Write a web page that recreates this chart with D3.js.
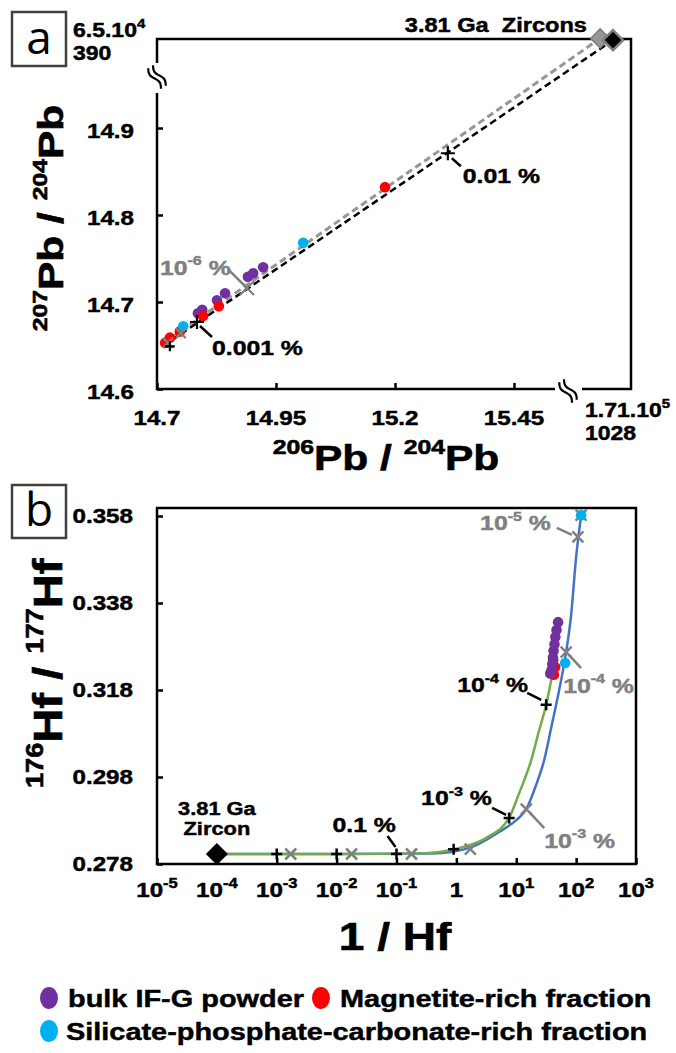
<!DOCTYPE html>
<html><head><meta charset="utf-8">
<script src="https://cdn.jsdelivr.net/npm/d3@7"></script>
<style>
body{margin:0;background:#fff}
svg{display:block}
text{font-family:"Liberation Sans",Arial,sans-serif;font-weight:bold}
</style>
</head><body>
<svg id="c" width="676" height="1053"></svg>
<script>
// ================= DATA =================
// Panel a : 207Pb/204Pb vs 206Pb/204Pb
const aXTicks = [14.7, 14.95, 15.2, 15.45];
const aXTickLabels = ['14.7', '14.95', '15.2', '15.45'];
const aYTicks = [14.6, 14.7, 14.8, 14.9];
const aYTickLabels = ['14.6', '14.7', '14.8', '14.9'];
const aBulk = [[14.786,14.687],[14.795,14.691],[14.826,14.702],[14.843,14.710],[14.891,14.729],[14.902,14.733],[14.923,14.740]];
const aMagnetite = [[14.717,14.653],[14.727,14.659],[14.748,14.666],[14.797,14.684],[14.830,14.695],[15.179,14.832]];
const aSilicate = [[14.755,14.672],[15.007,14.768]];
// zircon end-members are plotted beyond the axis breaks (break-axis coordinates)
const aZirconGray = [15.631, 15.003];
const aZirconBlack = [15.658, 15.001];
const aLineGray = [[14.712,14.652], aZirconGray];
const aLineBlack = [[14.712,14.649], aZirconBlack];
const aPlusBlack = [[14.727,14.649],[14.784,14.677],[15.311,14.871]];
const aCrossGray = [[14.723,14.653],[14.750,14.664],[14.889,14.716]];

// Panel b : 176Hf/177Hf vs 1/Hf
const bXTicks = [1e-5,1e-4,1e-3,1e-2,1e-1,1,10,100,1000];
const bXTickLabels = [['10','-5'],['10','-4'],['10','-3'],['10','-2'],['10','-1'],['1',null],['10','1'],['10','2'],['10','3']];
const bYTicks = [0.278,0.298,0.318,0.338,0.358];
const bYTickLabels = ['0.278','0.298','0.318','0.338','0.358'];
const bZircon = [1e-4, 0.2803];
const bGreen = [[1e-4,0.2803],[0.01,0.2803],[0.3,0.2805],[0.93,0.2814],[3.16,0.2840],[7.6,0.2886],[11.2,0.2943],[17.8,0.3019],[24.2,0.3088],[31.6,0.3146],[39.8,0.3214]];
const bBlue = [[1e-4,0.2803],[0.01,0.2803],[0.4,0.2804],[1.65,0.2817],[5.21,0.2854],[10,0.2881],[14.7,0.2906],[21.5,0.2962],[29.3,0.3019],[38.3,0.3093],[52.1,0.3180],[68.1,0.3267],[82.5,0.3352],[100,0.3486],[121,0.3580]];
const bPlusBlack = [[1e-3,0.2803],[1e-2,0.2803],[1e-1,0.2803],[0.9,0.2814],[7.6,0.2886],[31.6,0.3146]];
const bCrossGray = [[1.71e-3,0.2803],[1.78e-2,0.2803],[0.178,0.2803],[1.71,0.2814],[14.7,0.2906],[68.1,0.3267],[107,0.3532],[121,0.3582]];
const bBulk = [[50,0.3336],[47,0.3318],[45,0.3302],[43.5,0.3285],[42,0.3270],[41,0.3255],[40,0.3240],[39,0.3226],[37,0.3218]];
const bMagnetite = [[41.4,0.3249],[44.7,0.3233],[42.5,0.3215]];
const bSilicate = [[65.6,0.3242],[121,0.3582]];

const legendItems = [
  {label:'bulk IF-G powder', color:'#7030A0'},
  {label:'Magnetite-rich fraction', color:'#FF0000'},
  {label:'Silicate-phosphate-carbonate-rich fraction', color:'#00B0F0'}
];

// ================= HELPERS =================
const PURPLE = '#7030A0', RED = '#FF0000', CYAN = '#00B0F0', GRAY = '#808080';
const SX = 1.18;
const svg = d3.select('#c');

function label(parent, x, y, parts, o = {}) {
  const size = o.size || 20.5;
  const fill = o.fill || '#000';
  const g = parent.append('g').attr('transform', `translate(${x},${y}) rotate(${o.rotate||0}) scale(${o.sx||SX},1)`);
  const t = g.append('text')
    .attr('text-anchor', o.anchor || 'start')
    .attr('fill', fill)
    .attr('stroke', fill)
    .attr('stroke-width', o.sw == null ? 0.45 : o.sw)
    .attr('y', o.baseline ? 0 : size * 0.358)
    .style('font-size', size + 'px')
    .style('white-space', 'pre');
  if (o.weight) t.style('font-weight', o.weight);
  if (typeof parts === 'string') parts = [[parts]];
  const supSize = o.sup || size * 0.65;
  const rise = o.rise || size * 0.45;
  let up = false;
  parts.forEach(([s, k]) => {
    if (s == null) return;
    const ts = t.append('tspan').text(s);
    if (k === 'sup') {
      ts.style('font-size', supSize + 'px');
      if (!up) { ts.attr('dy', -rise); up = true; }
    } else if (up) { ts.attr('dy', rise); up = false; }
  });
  return t;
}
function plus(g, x, y, s, color, w) {
  g.append('path').attr('d', `M${x-s},${y}H${x+s}M${x},${y-s}V${y+s}`).attr('stroke', color).attr('stroke-width', w).attr('fill','none');
}
function cross(g, x, y, s, color, w) {
  g.append('path').attr('d', `M${x-s},${y-s}L${x+s},${y+s}M${x-s},${y+s}L${x+s},${y-s}`).attr('stroke', color).attr('stroke-width', w).attr('fill','none');
}
function leader(g, x1, y1, x2, y2, color) {
  g.append('line').attr('x1',x1).attr('y1',y1).attr('x2',x2).attr('y2',y2).attr('stroke',color).attr('stroke-width',2.5);
}
function diamond(g, x, y, r, fill, stroke, sw) {
  g.append('path').attr('d', `M${x},${y-r}L${x+r},${y}L${x},${y+r}L${x-r},${y}Z`).attr('fill', fill).attr('stroke', stroke||'none').attr('stroke-width', sw||0);
}
function breakMark(g, cx, cy) {
  const dir = [0.53, 0.85], perp = [0.85, -0.53];
  [-2.8, 2.8].forEach(off => {
    const pts = d3.range(-12, 12.01, 2).map(u => {
      const v = 2.3 * Math.sin(Math.PI * u / 12) + off;
      return [cx + dir[0]*u + perp[0]*v, cy + dir[1]*u + perp[1]*v];
    });
    g.append('path').attr('d', d3.line().curve(d3.curveBasis)(pts)).attr('fill','none').attr('stroke','#000').attr('stroke-width',2.2);
  });
}
function panelLetter(x, y, w, h, letter) {
  svg.append('rect').attr('x',x).attr('y',y).attr('width',w).attr('height',h).attr('fill','none').attr('stroke','#404040').attr('stroke-width',2.5);
  svg.append('text').attr('x', x + w/2).attr('y', y + h - 12).attr('text-anchor','middle')
    .style('font-family','"Open Sans",sans-serif').style('font-weight','normal').style('font-size','46px').text(letter);
}

// ================= PANEL A =================
const xA = d3.scaleLinear().domain([14.7, 15.45]).range([157, 514]);
const yA = d3.scaleLinear().domain([14.6, 14.9]).range([389, 128]);
const gA = svg.append('g');
const A_L = 157, A_R = 631, A_T = 39, A_B = 389;

panelLetter(12, 12, 54, 54, 'a');

gA.append('g').attr('transform', `translate(0,${A_B})`)
  .call(d3.axisBottom(xA).tickValues(aXTicks).tickSize(-6).tickFormat(''))
  .call(g => { g.select('.domain').remove(); g.selectAll('line').attr('stroke-width', 2.5); });
gA.append('g').attr('transform', `translate(${A_L},0)`)
  .call(d3.axisLeft(yA).tickValues(aYTicks).tickSize(-6).tickFormat(''))
  .call(g => { g.select('.domain').remove(); g.selectAll('line').attr('stroke-width', 2.5); });

gA.append('path').attr('d', `M${A_L},63V${A_T}H${A_R}V${A_B}H582M555,${A_B}H${A_L}V93`)
  .attr('fill','none').attr('stroke','#000').attr('stroke-width',2.5);
breakMark(gA, A_L, 77);
breakMark(gA, 568, 391);

aXTicks.forEach((v, i) => label(gA, xA(v), 418, aXTickLabels[i], {anchor:'middle'}));
aYTicks.forEach((v, i) => label(gA, 134, yA(v) + 3, aYTickLabels[i], {anchor:'end'}));
label(gA, 73, 30, [['6.5.10'],['4','sup']], {size:19.5});
label(gA, 73, 53, '390', {size:19.5});
label(gA, 585, 410, [['1.71.10'],['5','sup']], {size:19.5});
label(gA, 585, 433, '1028', {size:19.5});

const lineA = d3.line().x(d => xA(d[0])).y(d => yA(d[1]));
gA.append('path').attr('d', lineA(aLineGray)).attr('fill','none').attr('stroke','#969696').attr('stroke-width',3).attr('stroke-dasharray','7,4');
gA.append('path').attr('d', lineA(aLineBlack)).attr('fill','none').attr('stroke','#000').attr('stroke-width',2.5).attr('stroke-dasharray','7,4');

[[aBulk, PURPLE],[aMagnetite, RED],[aSilicate, CYAN]].forEach(([arr, c]) => {
  gA.selectAll(null).data(arr).enter().append('circle')
    .attr('cx', d => xA(d[0])).attr('cy', d => yA(d[1])).attr('r', 5.3).attr('fill', c);
});

aCrossGray.forEach((d, i) => cross(gA, xA(d[0]), yA(d[1]), i === 2 ? 7 : 5, GRAY, 2.2));
aPlusBlack.forEach((d, i) => plus(gA, xA(d[0]), yA(d[1]), i === 0 ? 5 : 7, '#000', 2.2));

diamond(gA, xA(aZirconGray[0]), yA(aZirconGray[1]), 9.5, '#969696', '#808080', 1.5);
diamond(gA, xA(aZirconBlack[0]), yA(aZirconBlack[1]), 10, '#000', '#808080', 2.5);
label(gA, 587, 25, '3.81 Ga  Zircons', {anchor:'end', size:20});

{
  const p1 = [xA(aPlusBlack[1][0]), yA(aPlusBlack[1][1])];
  leader(gA, p1[0] + 3, p1[1] + 4, p1[0] + 15, p1[1] + 15, '#000');
  label(gA, p1[0] + 15, p1[1] + 25, '0.001 %', {size:21});
  const p2 = [xA(aPlusBlack[2][0]), yA(aPlusBlack[2][1])];
  leader(gA, p2[0] + 4, p2[1] + 5, p2[0] + 13, p2[1] + 13, '#000');
  label(gA, p2[0] + 15, p2[1] + 22, '0.01 %', {size:21});
  const g1 = [xA(aCrossGray[2][0]), yA(aCrossGray[2][1])];
  leader(gA, g1[0] - 19, g1[1] - 19, g1[0], g1[1], GRAY);
  label(gA, g1[0] - 87, g1[1] - 21, [['10'],['-6','sup'],[' %']], {fill: GRAY, size:21});
}

label(svg, 63, 218, [['207','sup'],['Pb / '],['204','sup'],['Pb']], {size:36, sup:21, rise:16, anchor:'middle', rotate:-90, baseline:true, sw:0.6});
label(svg, 386, 470, [['206','sup'],['Pb / '],['204','sup'],['Pb']], {size:36, sup:21, rise:16, anchor:'middle', baseline:true, sw:0.6});

// ================= PANEL B =================
const xB = d3.scaleLog().domain([1e-5, 1e3]).range([157, 636]);
const yB = d3.scaleLinear().domain([0.278, 0.358]).range([864, 516]);
const gB = svg.append('g');
const B_T = 508;

panelLetter(12, 485, 54, 53, 'b');

gB.append('g').attr('transform', 'translate(0,864)')
  .call(d3.axisBottom(xB).tickValues(bXTicks).tickSize(-6).tickFormat(''))
  .call(g => { g.select('.domain').remove(); g.selectAll('line').attr('stroke-width', 2.5); });
gB.append('g').attr('transform', 'translate(157,0)')
  .call(d3.axisLeft(yB).tickValues(bYTicks).tickSize(-6).tickFormat(''))
  .call(g => { g.select('.domain').remove(); g.selectAll('line').attr('stroke-width', 2.5); });
gB.append('rect').attr('x', 157).attr('y', B_T).attr('width', xB(1e3) - 157).attr('height', 864 - B_T)
  .attr('fill','none').attr('stroke','#000').attr('stroke-width',2.5);

bXTicks.forEach((v, i) => {
  const [base, ex] = bXTickLabels[i];
  label(gB, xB(v), 890, [[base], [ex, 'sup']], {anchor:'middle', sup:14});
});
bYTicks.forEach((v, i) => label(gB, 133, yB(v), bYTickLabels[i], {anchor:'end'}));

const lineB = d3.line().x(d => xB(d[0])).y(d => yB(d[1])).curve(d3.curveMonotoneX);
gB.append('path').attr('d', lineB(bBlue)).attr('fill','none').attr('stroke','#4472C4').attr('stroke-width',2.5);
gB.append('path').attr('d', lineB(bGreen)).attr('fill','none').attr('stroke','#70AD47').attr('stroke-width',2.5);

bCrossGray.forEach(d => cross(gB, xB(d[0]), yB(d[1]), 5.5, GRAY, 2.5));
bPlusBlack.forEach(d => plus(gB, xB(d[0]), yB(d[1]), 5.5, '#000', 2.5));

[[bMagnetite, RED],[bBulk, PURPLE],[bSilicate, CYAN]].forEach(([arr, c]) => {
  gB.selectAll(null).data(arr).enter().append('circle')
    .attr('cx', d => xB(d[0])).attr('cy', d => yB(d[1])).attr('r', 5.3).attr('fill', c);
});

diamond(gB, xB(bZircon[0]), yB(bZircon[1]), 11, '#000');
label(gB, xB(bZircon[0]), 808, '3.81 Ga', {anchor:'middle', size:18.5});
label(gB, xB(bZircon[0]), 828, 'Zircon', {anchor:'middle', size:18.5});

{
  const P = i => [xB(bPlusBlack[i][0]), yB(bPlusBlack[i][1])];
  const C = i => [xB(bCrossGray[i][0]), yB(bCrossGray[i][1])];
  let p = P(2); leader(gB, p[0] - 9, p[1] - 18, p[0] - 1, p[1] - 7, '#000');
  label(gB, p[0] - 64, p[1] - 30, '0.1 %', {size:21});
  p = P(4); leader(gB, p[0] - 17, p[1] - 10, p[0] - 3, p[1] - 3, '#000');
  label(gB, p[0] - 88, p[1] - 20, [['10'],['-3','sup'],[' %']], {size:21});
  p = P(5); leader(gB, p[0] - 19, p[1] - 12, p[0] - 5, p[1] - 5, '#000');
  label(gB, p[0] - 89, p[1] - 20, [['10'],['-4','sup'],[' %']], {size:21});
  let c = C(4); leader(gB, c[0] + 3, c[1] + 3, c[0] + 18, c[1] + 19, GRAY);
  label(gB, c[0] + 18, c[1] + 31, [['10'],['-3','sup'],[' %']], {size:21, fill:GRAY});
  c = C(5); leader(gB, c[0] + 3, c[1] + 3, c[0] + 15, c[1] + 16, GRAY);
  label(gB, c[0] - 3, c[1] + 33, [['10'],['-4','sup'],[' %']], {size:21, fill:GRAY});
  c = C(6); leader(gB, c[0] - 21, c[1] - 9, c[0] - 6, c[1] - 2, GRAY);
  label(gB, c[0] - 27, c[1] - 14, [['10'],['-5','sup'],[' %']], {size:21, fill:GRAY, anchor:'end'});
}

label(svg, 395, 950, '1 / Hf', {size:39, anchor:'middle', baseline:true, sw:0.6});
label(svg, 62, 788, [['176','sup'],['Hf / '],['177','sup'],['Hf']], {size:40, sup:23, rise:19, anchor:'start', rotate:-90, baseline:true, sw:0.6});

// ================= LEGEND =================
const legPos = [[49, 998, 68], [321, 998, 340], [49, 1031, 66]];
legendItems.forEach((d, i) => {
  const [cx, cy, tx] = legPos[i];
  svg.append('ellipse').attr('cx', cx).attr('cy', cy).attr('rx', 9).attr('ry', 11).attr('fill', d.color);
  label(svg, tx, cy, d.label, {size:24.5});
});
</script>
</body></html>
